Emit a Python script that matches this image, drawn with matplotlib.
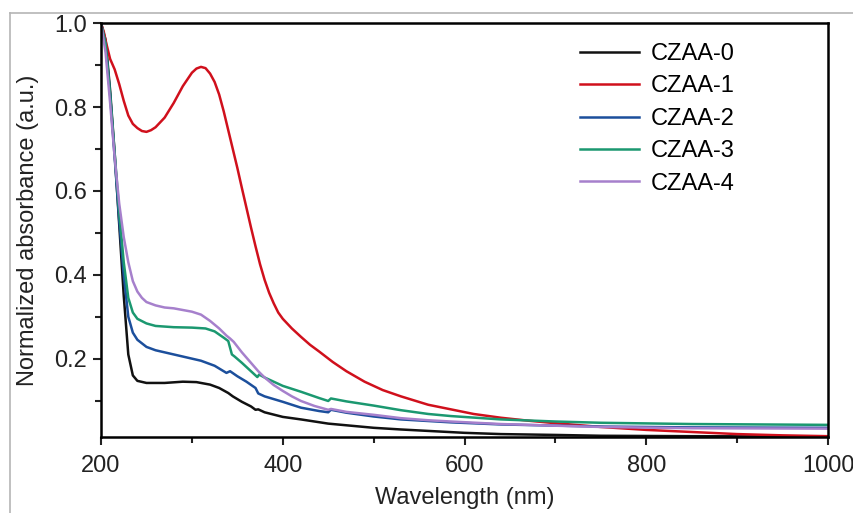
import numpy as np
import matplotlib
matplotlib.use('Agg')
import matplotlib.pyplot as plt
from matplotlib.ticker import MultipleLocator, FormatStrFormatter
from matplotlib.lines import Line2D

plt.rcParams['font.family'] = ['Liberation Sans', 'DejaVu Sans']

# CZAA-0 (black)
wl0 = [200, 205, 210, 215, 220, 225, 230, 235, 240, 250, 270, 290, 305, 320, 330, 340, 345,
       355, 365, 370, 373, 380, 400, 420, 450, 500, 530, 600, 640, 700, 750, 850, 1000]
ab0 = [1.0, 0.96, 0.84, 0.69, 0.52, 0.35, 0.21, 0.16, 0.147, 0.142, 0.142, 0.145, 0.144, 0.138,
       0.13, 0.118, 0.11, 0.097, 0.086, 0.078, 0.079, 0.072, 0.061, 0.055, 0.045, 0.035, 0.031,
       0.023, 0.02, 0.018, 0.016, 0.015, 0.014]

# CZAA-1 (red)
wl1 = [200, 203, 206, 210, 215, 220, 225, 230, 235, 240, 245, 250, 255, 260, 270, 280, 290, 300,
       305, 310, 315, 320, 325, 330, 335, 340, 345, 350, 355, 360, 365, 370, 375, 380, 385, 390,
       395, 400, 410, 420, 430, 440, 455, 470, 490, 510, 530, 560, 585, 610, 640, 670, 700, 750,
       800, 850, 900, 950, 1000]
ab1 = [1.0, 0.98, 0.95, 0.915, 0.89, 0.855, 0.815, 0.78, 0.76, 0.75, 0.743, 0.741, 0.745, 0.752,
       0.775, 0.81, 0.85, 0.882, 0.892, 0.896, 0.893, 0.88, 0.86, 0.83, 0.79, 0.745, 0.70, 0.655,
       0.607, 0.56, 0.513, 0.468, 0.425, 0.388, 0.357, 0.332, 0.31, 0.295, 0.272, 0.252, 0.233,
       0.217, 0.192, 0.17, 0.145, 0.125, 0.11, 0.09, 0.079, 0.068, 0.059, 0.052, 0.046, 0.037,
       0.03, 0.025, 0.02, 0.017, 0.015]

# CZAA-2 (blue)
wl2 = [200, 205, 210, 215, 220, 225, 230, 235, 240, 250, 260, 270, 290, 310, 325, 338, 342, 350,
       360, 370, 373, 380, 400, 420, 440, 450, 453, 470, 500, 530, 585, 640, 750, 850, 1000]
ab2 = [1.0, 0.95, 0.83, 0.68, 0.53, 0.40, 0.30, 0.262, 0.245, 0.228, 0.22, 0.215, 0.205, 0.195,
       0.183, 0.166, 0.17, 0.158, 0.145, 0.13, 0.117, 0.11, 0.097, 0.083, 0.075, 0.072, 0.078,
       0.071, 0.062, 0.055, 0.048, 0.043, 0.038, 0.036, 0.035]

# CZAA-3 (green)
wl3 = [200, 205, 210, 215, 220, 225, 230, 235, 240, 250, 260, 280, 300, 315, 325, 335, 340, 344,
       347, 355, 365, 372, 374, 380, 400, 420, 440, 450, 453, 470, 500, 530, 560, 585, 640, 700,
       750, 850, 1000]
ab3 = [1.0, 0.95, 0.83, 0.69, 0.55, 0.43, 0.345, 0.31, 0.295, 0.284, 0.278, 0.275, 0.274, 0.272,
       0.265, 0.25, 0.242, 0.21, 0.205, 0.19, 0.17, 0.156, 0.162, 0.155, 0.135, 0.121, 0.106,
       0.099, 0.105, 0.098, 0.088, 0.077, 0.068, 0.063, 0.055, 0.05, 0.047, 0.044, 0.042]

# CZAA-4 (purple)
wl4 = [200, 205, 210, 215, 220, 225, 230, 235, 240, 245, 250, 260, 270, 280, 290, 300, 310, 320,
       330, 338, 342, 346, 355, 365, 373, 380, 390, 400, 410, 420, 435, 450, 453, 470, 500, 530,
       560, 585, 640, 700, 750, 850, 1000]
ab4 = [1.0, 0.93, 0.81, 0.68, 0.57, 0.49, 0.43, 0.385, 0.36, 0.345, 0.335, 0.327, 0.322, 0.32,
       0.316, 0.312, 0.305, 0.29, 0.272, 0.255, 0.248, 0.24, 0.215, 0.19, 0.17, 0.155, 0.137,
       0.123, 0.11, 0.099, 0.087, 0.078, 0.08, 0.073, 0.066, 0.058, 0.053, 0.05, 0.044, 0.04,
       0.037, 0.034, 0.033]

labels = ['CZAA-0', 'CZAA-1', 'CZAA-2', 'CZAA-3', 'CZAA-4']
colors = ['#111111', '#d0101c', '#1c4f9c', '#1b9870', '#a680cc']
series = [(wl0, ab0), (wl1, ab1), (wl2, ab2), (wl3, ab3), (wl4, ab4)]

fs = 17
fig = plt.figure(figsize=(8.54, 5.13), dpi=100)
ax = fig.add_axes([0.1183, 0.1481, 0.8513, 0.8065])

for (wl, ab), lab, c in zip(series, labels, colors):
    ax.plot(wl, ab, color=c, lw=1.8, label=lab)

ax.set_xlim(200, 1000)
ax.set_ylim(0.013, 1.0)
ax.xaxis.set_major_locator(MultipleLocator(200))
ax.xaxis.set_minor_locator(MultipleLocator(100))
ax.yaxis.set_major_locator(MultipleLocator(0.2))
ax.yaxis.set_minor_locator(MultipleLocator(0.1))
ax.yaxis.set_major_formatter(FormatStrFormatter('%.1f'))
ax.tick_params(which='both', direction='out', width=1.5, labelsize=fs, top=False, right=False,
               colors='#222222')
ax.tick_params(which='major', length=6)
ax.tick_params(axis='x', which='major', pad=7)
ax.tick_params(axis='y', which='major', pad=4)
ax.tick_params(which='minor', length=4)
for sp in ax.spines.values():
    sp.set_linewidth(1.8)

ax.set_xlabel('Wavelength (nm)', fontsize=fs, color='#222222', labelpad=7)
ax.set_ylabel('Normalized absorbance (a.u.)', fontsize=fs, color='#222222', labelpad=11)

leg = ax.legend(loc='upper left', bbox_to_anchor=(0.646, 0.975), frameon=False, fontsize=fs,
                handlelength=2.5, handletextpad=0.5, labelspacing=0.44, borderaxespad=0)

# light frame around the figure (left and top edges only visible)
fig.add_artist(Line2D([10 / 854, 10 / 854], [0, 1 - 13 / 513], color='#b5b5b5', lw=1.2,
                      transform=fig.transFigure))
fig.add_artist(Line2D([10 / 854, 1], [1 - 13 / 513, 1 - 13 / 513], color='#b5b5b5', lw=1.2,
                      transform=fig.transFigure))

fig.savefig('out.png', dpi=100)
